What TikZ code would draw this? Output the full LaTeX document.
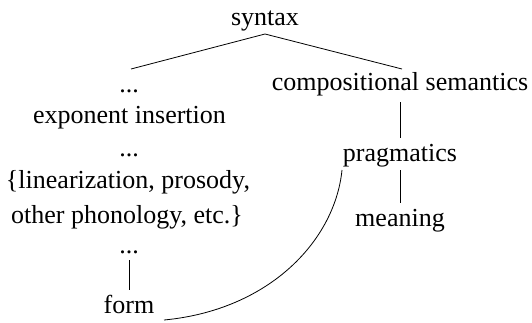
\documentclass[tikz,border=0pt]{standalone}
\usepackage{fontspec}
\setmainfont{Liberation Serif}
\begin{document}
\begin{tikzpicture}[x=1pt,y=-1pt,
  lbl/.style={anchor=base,inner sep=0pt,font=\fontsize{26}{30}\selectfont},
  conn/.style={line width=0.8pt}]
\useasboundingbox (0,0) rectangle (532,322);
\node[lbl] (syntax) at (265,25) {syntax};
\node[lbl] (dotsA) at (129,92) {...};
\node[lbl] (compsem) at (400,90) {compositional semantics};
\node[lbl] (expins) at (129.5,123) {exponent insertion};
\node[lbl] (dotsB) at (129,156) {...};
\node[lbl] (prag) at (400,161) {pragmatics};
\node[lbl] (linA) at (128,188) {\{linearization, prosody,};
\node[lbl] (linB) at (127,223) {other phonology, etc.\}};
\node[lbl] (meaning) at (400,226) {meaning};
\node[lbl] (dotsC) at (129,253) {...};
\node[lbl] (form) at (129,313) {form};
\coordinate (apex) at (265,34);
\coordinate (leftend) at (131,69);
\coordinate (rightend) at (402,69);
\coordinate (cs1) at (400,102);
\coordinate (cs2) at (400,138);
\coordinate (pm1) at (400,170);
\coordinate (pm2) at (400,203);
\coordinate (df1) at (129,260);
\coordinate (df2) at (129,290);
\coordinate (cvA) at (342,170);
\coordinate (cvB) at (164,320);
\draw[conn] (leftend) -- (apex) -- (rightend);
\draw[conn] (cs1) -- (cs2);
\draw[conn] (pm1) -- (pm2);
\draw[conn] (df1) -- (df2);
\draw[conn] (cvA) .. controls (335,240) and (270,310) .. (cvB);
\end{tikzpicture}
\end{document}
